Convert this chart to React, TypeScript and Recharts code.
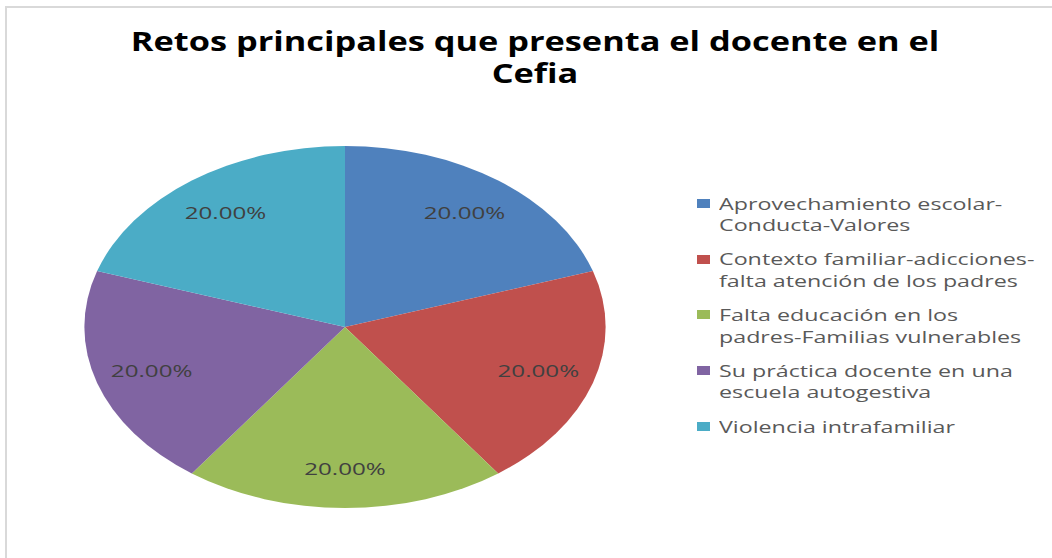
import { PieChart, Pie, Cell, Legend } from "recharts";
import type { PieLabelRenderProps } from "recharts";

const CATEGORIES = [
  "Aprovechamiento escolar-\nConducta-Valores",
  "Contexto familiar-adicciones-\nfalta atención de los padres",
  "Falta educación en los\npadres-Familias vulnerables",
  "Su práctica docente en una\nescuela autogestiva",
  "Violencia intrafamiliar",
];
const VALUES = [20, 20, 20, 20, 20];
const COLORS = ["#4F81BD", "#C0504D", "#9BBB59", "#8064A2", "#4BACC6"];
const TITLE_LINES = ["Retos principales que presenta el docente en el", "Cefia"];

const data = CATEGORIES.map((name, i) => ({ name, value: VALUES[i] }));

const RADIAN = Math.PI / 180;
const FONT = "'Open Sans', 'Noto Sans', sans-serif";
// the picture is stretched sideways, so the pie is an ellipse
const STRETCH = 1.44;
const CX = 345;
const CY = 327;

function renderLabel(props: PieLabelRenderProps) {
  const cx = Number(props.cx);
  const cy = Number(props.cy);
  const r = Number(props.outerRadius) * 0.78;
  const a = Number(props.midAngle ?? 0);
  const x = cx + STRETCH * r * Math.cos(-a * RADIAN);
  const y = cy + r * Math.sin(-a * RADIAN);
  return (
    <text
      x={0}
      y={0}
      transform={`translate(${x},${y}) scale(${STRETCH},1)`}
      textAnchor="middle"
      dominantBaseline="central"
      fill="#404040"
      fontSize={16.8}
      fontFamily={FONT}
    >
      {`${(Number(props.percent ?? 0) * 100).toFixed(2)}%`}
    </text>
  );
}

function LegendContent(props: any) {
  const payload = props.payload ?? [];
  return (
    <div style={{ fontFamily: FONT, fontSize: 16.8, lineHeight: "21.5px", color: "#595959" }}>
      {payload.map((entry: any, i: number) => (
        <div
          key={i}
          style={{
            position: "relative",
            marginBottom: 12.75,
            height: String(entry.value).includes("\n") ? 43 : 21.5,
          }}
        >
          <div
            style={{
              position: "absolute",
              left: 0,
              top: 6.3,
              width: 13,
              height: 9,
              background: entry.color,
            }}
          />
          <div
            style={{
              position: "absolute",
              left: 22,
              top: 0,
              whiteSpace: "pre",
              transform: "scaleX(1.385)",
              transformOrigin: "0 0",
            }}
          >
            {entry.value}
          </div>
        </div>
      ))}
    </div>
  );
}

export default function App() {
  return (
    <div
      style={{
        position: "absolute",
        left: 0,
        top: 0,
        width: 1052,
        height: 558,
        background: "#fff",
        overflow: "hidden",
      }}
    >
      <style>{`path.recharts-sector { transform: scaleX(${STRETCH}); transform-origin: ${CX}px ${CY}px; }`}</style>
      <div
        style={{
          position: "absolute",
          left: 5,
          top: 6,
          width: 1052,
          height: 558,
          borderLeft: "2px solid #d9d9d9",
          borderTop: "2px solid #d9d9d9",
        }}
      />
      <div
        style={{
          position: "absolute",
          left: 135,
          top: 27.5,
          width: 800,
          textAlign: "center",
          fontFamily: FONT,
          fontWeight: 700,
          fontSize: 26.5,
          lineHeight: "26.5px",
          color: "#000",
          transform: "scaleX(1.296)",
          transformOrigin: "400px 0",
          whiteSpace: "nowrap",
        }}
      >
        {TITLE_LINES.map((t, i) => (
          <div key={i} style={{ marginBottom: 5.5 }}>
            {t}
          </div>
        ))}
      </div>
      <div style={{ position: "absolute", left: 0, top: 0 }}>
        <PieChart width={1052} height={558} margin={{ top: 0, right: 0, bottom: 0, left: 0 }}>
          <Pie
            data={data}
            dataKey="value"
            nameKey="name"
            cx={CX}
            cy={CY}
            outerRadius={181}
            startAngle={90}
            endAngle={-270}
            stroke="none"
            label={renderLabel}
            labelLine={false}
            isAnimationActive={false}
          >
            {data.map((_, i) => (
              <Cell key={i} fill={COLORS[i % COLORS.length]} />
            ))}
          </Pie>
          <Legend
            layout="vertical"
            align="right"
            verticalAlign="top"
            content={<LegendContent />}
            wrapperStyle={{ left: 697, top: 192.7, width: 355 }}
          />
        </PieChart>
      </div>
    </div>
  );
}
